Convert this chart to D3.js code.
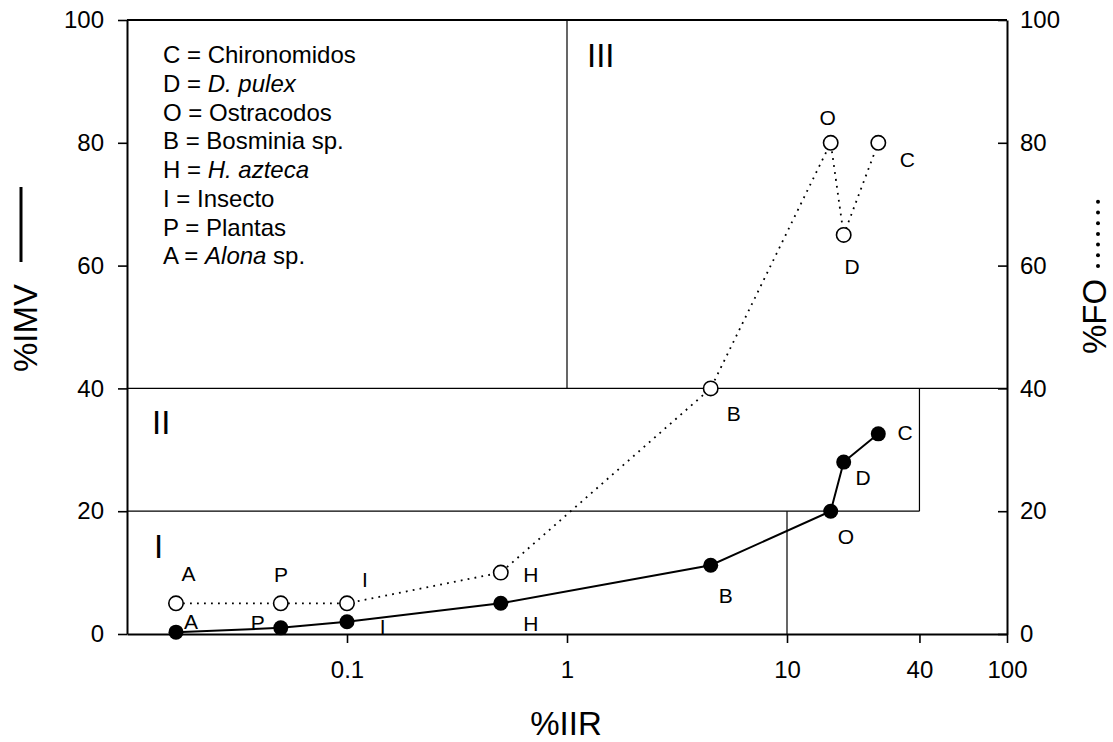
<!DOCTYPE html>
<html>
<head>
<meta charset="utf-8">
<script src="https://cdn.jsdelivr.net/npm/d3@7"></script>
<style>
  html, body { margin: 0; padding: 0; background: #fff; }
  svg { display: block; font-family: "Liberation Sans", Arial, sans-serif; }
</style>
</head>
<body>
<svg id="chart" width="1113" height="742"></svg>
<script>
// Prey items (taxon codes), feeding indices
const taxa = ["A", "P", "I", "H", "B", "O", "D", "C"];
const iir  = [0.0167, 0.05, 0.1, 0.5, 4.5, 15.8, 18.1, 26];   // %IIR (log axis)
const imv  = [0.3, 1.0, 2.0, 5.0, 11.2, 20.0, 28.0, 32.6];    // %IMV (solid line)
const fo   = [5, 5, 5, 10, 40, 80, 65, 80];                    // %FO (dotted line)

// Axis ticks
const xTicks = [0.1, 1, 10, 40, 100];
const xTickLabels = ["0.1", "1", "10", "40", "100"];
const yTicks = [0, 20, 40, 60, 80, 100];

// Key entries: code, name, italic part flag
const keyCodes = ["C", "D", "O", "B", "H", "I", "P", "A"];
const keyNames = [
  [["Chironomidos", false]],
  [["D. pulex", true]],
  [["Ostracodos", false]],
  [["Bosminia sp.", false]],
  [["H. azteca", true]],
  [["Insecto", false]],
  [["Plantas", false]],
  [["Alona", true], [" sp.", false]]
];

// Zone boundaries in data units [x1, y1, x2, y2]
const zoneLines = [
  [1, 100, 1, 40],
  [0.01, 40, 100, 40],
  [0.01, 20, 40, 20],
  [40, 20, 40, 40],
  [10, 0, 10, 20]
];
const zoneNames = ["I", "II", "III"];

// ---- layout ----
const svg = d3.select("#chart");
const L = 127, R = 1007, T = 20, B = 634;
const x = d3.scaleLog().domain([0.01, 100]).range([L, R]);
const y = d3.scaleLinear().domain([0, 100]).range([B, T]);

// label offsets (px) from each marker: [dx, dy] of label centre / baseline
const imvLabelOff = [[15, -3], [-23, 2], [35.6, 12.3], [30, 27.7], [15, 37.6], [15.3, 32.7], [19.3, 22.7], [26.7, 6.4]];
const foLabelOff  = [[12.5, -22.3], [0.3, -21.3], [18, -16.7], [30, 9], [23, 32.4], [-3, -17.7], [8.3, 39], [29, 24]];
const zoneLabelPos = [[154, 558.3], [152, 434.3], [587, 66.7]];

const tickFont = 24, keyFont = 24, titleFont = 33, labelFont = 21;

// zone boundary lines
svg.append("g").selectAll("line").data(zoneLines).join("line")
  .attr("x1", d => x(d[0])).attr("y1", d => y(d[1]))
  .attr("x2", d => x(d[2])).attr("y2", d => y(d[3]))
  .attr("stroke", "#000").attr("stroke-width", 1.2);

// zone numerals
svg.append("g").selectAll("text").data(zoneNames).join("text")
  .attr("x", (d, i) => zoneLabelPos[i][0]).attr("y", (d, i) => zoneLabelPos[i][1])
  .attr("font-size", titleFont).text(d => d);

// axes
const axisStyle = g => {
  g.selectAll(".domain").attr("stroke", "#000").attr("stroke-width", 2);
  g.selectAll(".tick line").attr("stroke", "#000").attr("stroke-width", 1.6);
  g.selectAll(".tick text").attr("font-size", tickFont).attr("fill", "#000")
    .attr("font-family", "Liberation Sans, Arial, sans-serif");
};

svg.append("g").attr("transform", `translate(${L},0)`)
  .call(d3.axisLeft(y).tickValues(yTicks).tickSizeInner(9).tickSizeOuter(0).tickPadding(14).tickFormat(d3.format("d")))
  .call(axisStyle);

svg.append("g").attr("transform", `translate(${R},0)`)
  .call(d3.axisRight(y).tickValues(yTicks).tickSizeInner(-9).tickSizeOuter(0).tickPadding(13).tickFormat(d3.format("d")))
  .call(axisStyle);

svg.append("g").attr("transform", `translate(0,${B})`)
  .call(d3.axisBottom(x).tickValues(xTicks).tickSizeInner(9).tickSizeOuter(0).tickPadding(18)
    .tickFormat((d, i) => xTickLabels[i]))
  .call(axisStyle);

// top frame
svg.append("line").attr("x1", L).attr("x2", R).attr("y1", T).attr("y2", T)
  .attr("stroke", "#000").attr("stroke-width", 2);

// series
const idx = d3.range(taxa.length);
const imvLine = d3.line().x(i => x(iir[i])).y(i => y(imv[i]));
const foLine  = d3.line().x(i => x(iir[i])).y(i => y(fo[i]));

svg.append("path").attr("d", foLine(idx)).attr("fill", "none")
  .attr("stroke", "#000").attr("stroke-width", 1.8)
  .attr("stroke-dasharray", "1.8 5.2");

svg.append("path").attr("d", imvLine(idx)).attr("fill", "none")
  .attr("stroke", "#000").attr("stroke-width", 2);

svg.append("g").selectAll("circle").data(idx).join("circle")
  .attr("cx", i => x(iir[i])).attr("cy", i => y(fo[i])).attr("r", 7.2)
  .attr("fill", "#fff").attr("stroke", "#000").attr("stroke-width", 1.6);

svg.append("g").selectAll("circle").data(idx).join("circle")
  .attr("cx", i => x(iir[i])).attr("cy", i => y(imv[i])).attr("r", 7.5)
  .attr("fill", "#000");

// point labels
svg.append("g").selectAll("text").data(idx).join("text")
  .attr("x", i => x(iir[i]) + foLabelOff[i][0]).attr("y", i => y(fo[i]) + foLabelOff[i][1])
  .attr("text-anchor", "middle").attr("font-size", labelFont).text(i => taxa[i]);

svg.append("g").selectAll("text").data(idx).join("text")
  .attr("x", i => x(iir[i]) + imvLabelOff[i][0]).attr("y", i => y(imv[i]) + imvLabelOff[i][1])
  .attr("text-anchor", "middle").attr("font-size", labelFont).text(i => taxa[i]);

// key
const key = svg.append("g").attr("font-size", keyFont);
keyCodes.forEach((c, i) => {
  const t = key.append("text").attr("x", 163).attr("y", 63.3 + i * 28.7);
  t.append("tspan").text(c + " = ");
  keyNames[i].forEach(([s, it]) => {
    t.append("tspan").attr("font-style", it ? "italic" : "normal").text(s);
  });
});

// axis titles
svg.append("text").attr("x", 566).attr("y", 735).attr("text-anchor", "middle")
  .attr("font-size", titleFont).text("%IIR");

svg.append("text").attr("transform", "translate(36.5,372) rotate(-90)")
  .attr("font-size", titleFont).text("%IMV");
svg.append("line").attr("x1", 21).attr("x2", 21).attr("y1", 262).attr("y2", 187)
  .attr("stroke", "#000").attr("stroke-width", 3);

svg.append("text").attr("transform", "translate(1106,354) rotate(-90)")
  .attr("font-size", titleFont).text("%FO");
svg.append("g").selectAll("circle").data(d3.range(7)).join("circle")
  .attr("cx", 1098).attr("cy", d => 266 - d * 10.7).attr("r", 2).attr("fill", "#000");
</script>
</body>
</html>
